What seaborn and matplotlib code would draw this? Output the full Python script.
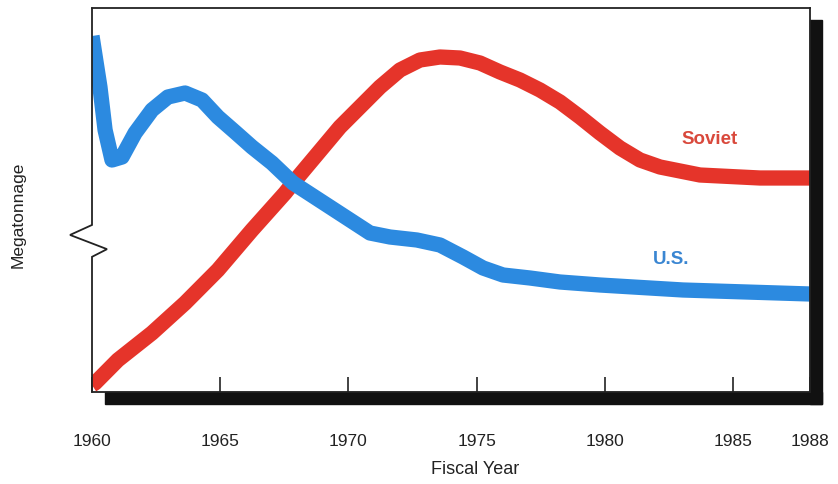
import matplotlib
matplotlib.use("Agg")
import matplotlib.pyplot as plt
from matplotlib.patches import Rectangle
import seaborn as sns
import pandas as pd

sns.set_theme(style="white")
plt.rcParams['font.family'] = ['Liberation Sans', 'DejaVu Sans']

# Data (arbitrary megatonnage units)
soviet_years = [1960.0, 1960.12, 1961.01, 1962.34, 1963.63, 1964.91, 1966.24, 1967.53,
                1967.84, 1969.67, 1970.45, 1971.23, 1972.01, 1972.79, 1973.57, 1974.35,
                1975.13, 1975.91, 1976.69, 1977.47, 1978.25, 1979.03, 1979.81, 1980.59,
                1981.37, 1982.15, 1983.71, 1986.05, 1988.0]
soviet_mt = [7, 9, 32, 59, 89, 122, 162, 199,
             209, 265, 285, 305, 322, 332, 335, 334,
             329, 320, 312, 302, 290, 275, 259, 244,
             232, 225, 217, 214, 214]

us_years = [1960.0, 1960.31, 1960.51, 1960.78, 1961.17, 1961.68, 1962.34, 1962.96,
            1963.63, 1964.29, 1964.91, 1965.58, 1966.24, 1967.02, 1967.84, 1969.28,
            1970.06, 1970.84, 1971.62, 1972.67, 1973.57, 1974.47, 1975.25, 1976.03,
            1977.08, 1978.25, 1979.81, 1983.05, 1988.0]
us_mt = [356, 305, 262, 232, 235, 259, 282, 295,
         299, 292, 275, 260, 245, 229, 209, 185,
         172, 159, 155, 152, 147, 135, 124, 117,
         114, 110, 107, 102, 98]

tick_years = [1960, 1965, 1970, 1975, 1980, 1985, 1988]
tick_labels = ["1960", "1965", "1970", "1975", "1980", "1985", "1988"]

soviet_df = pd.DataFrame({"year": soviet_years, "mt": soviet_mt})
us_df = pd.DataFrame({"year": us_years, "mt": us_mt})

RED = "#e5342a"
BLUE = "#2c8ae0"

fig = plt.figure(figsize=(8.38, 4.84), dpi=100)
ax = fig.add_axes([92/838, 92/484, 718/838, 384/484])

sns.lineplot(data=soviet_df, x="year", y="mt", ax=ax, color=RED, lw=11,
             solid_joinstyle="round", solid_capstyle="butt", sort=False)
sns.lineplot(data=us_df, x="year", y="mt", ax=ax, color=BLUE, lw=11,
             solid_joinstyle="round", solid_capstyle="butt", sort=False)

ax.set_xlim(1960, 1988)
ax.set_ylim(0, 384)
ax.set_yticks([])
ax.set_xticks(tick_years)
ax.set_xticklabels(tick_labels, fontsize=12.5, color="#222222")
ax.tick_params(axis="x", direction="in", length=11, width=1.2, color="#222222", pad=30,
               bottom=True)
ax.set_xlabel("")
ax.set_ylabel("")

for s in ["top", "right", "bottom"]:
    ax.spines[s].set_color("#222222")
    ax.spines[s].set_linewidth(1.3)
ax.spines["left"].set_visible(False)

# broken left axis with zigzag
lx = [0, 0, -0.0306, 0.0209, 0, 0]
ly = [1, 0.435, 0.409, 0.372, 0.352, 0]
ax.plot(lx, ly, transform=ax.transAxes, color="#222222", lw=1.3, clip_on=False,
        solid_joinstyle="miter")

# shadow
dx = 12/718
dy = 12/384
ax.add_patch(Rectangle((1.0, -dy), dx, 1.0, transform=ax.transAxes,
                       color="#111111", clip_on=False, zorder=0))
ax.add_patch(Rectangle((13/718, -dy), 1.0 - 13/718 + dx, dy, transform=ax.transAxes,
                       color="#111111", clip_on=False, zorder=0))

ax.text(1984.1, 252, "Soviet", color="#d9493c", fontsize=13.5, fontweight="bold",
        ha="center", va="center")
ax.text(1982.6, 132, "U.S.", color="#3a86d2", fontsize=13.5, fontweight="bold",
        ha="center", va="center")

fig.text(18/838, 1 - 215/484, "Megatonnage", rotation=90, ha="center", va="center",
         fontsize=12.5, color="#222222")
fig.text(475/838, 1 - 470/484, "Fiscal Year", ha="center", va="center",
         fontsize=13, color="#222222")

fig.savefig("out.png", dpi=100)
